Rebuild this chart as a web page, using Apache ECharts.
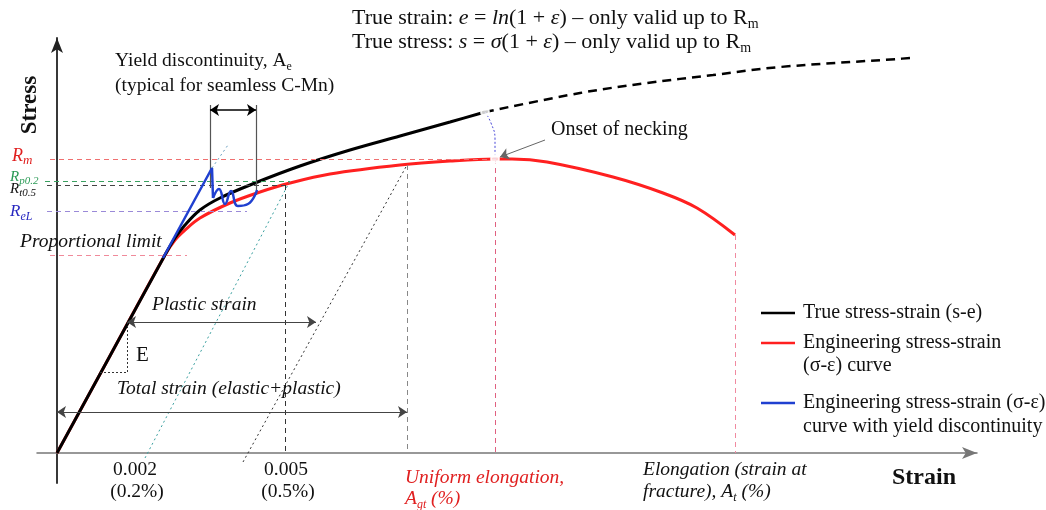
<!DOCTYPE html>
<html>
<head>
<meta charset="utf-8">
<script src="https://cdn.jsdelivr.net/npm/echarts@6/dist/echarts.min.js"></script>
<style>
html,body{margin:0;padding:0;background:#fff;}
#c{width:1046px;height:510px;}
</style>
</head>
<body>
<div id="c"></div>
<script>
// ---- data (schematic strain / stress units) ----
const trueCurve = [[0,0],[54,99],[108,198],[118,215],[128,228],[143,243],[163,255],[198,270],[243,287],[293,303],[343,317],[393,331],[428,341]];
const trueCurveBeyond = [[428,341],[523,360],[590,370],[656,378],[723,386],[840,394],[853,395]];
const engCurve = [[0,0],[54,99],[108,198],[118,213],[128,223],[143,235],[173,250],[203,261],[233,270],[273,279],[343,288],[393,292],[438,294],[455,294],[490,291],[556,276],[606,260],[640,245],[678,218]];
const yieldRise = [[106,195],[155,285],[156,255]];
const yieldWave = [[156,255],[162,264],[168,249],[174,262],[181,247],[191,249],[200,263]];
const neckLink = [[428,341],[434,330],[438,314],[438,294]];
const neckPoints = [[428,341],[438,294]];

const guideRm = [[-7,294],[438,294]];
const guideRp02 = [[-12,272],[233,272]];
const guideRt05 = [[-10,268],[228,268]];
const guideReL = [[-10,242],[190,242]];
const guideProp = [[-7,198],[130,198]];
const guideOffset02 = [[88,-5],[233,272]];
const guideElasticExt = [[155,285],[171,308]];
const guideOffsetAgt = [[186,-9],[350,288]];
const guide005 = [[228,268],[228,0]];
const guideAgt = [[350,288],[350,0]];
const guideRmVert = [[438,294],[438,0]];
const guideAt = [[678,218],[678,0]];
const yieldLeft = [[153,348],[153,265]];
const yieldRight = [[199,348],[199,258]];
const arrowYield = [[153,343],[199,343]];
const arrowPlastic = [[70,131],[259,131]];
const arrowTotal = [[0,41],[350,41]];
const triEv = [[70,131],[70,81]];
const triEh = [[43,81],[70,81]];
const neckPointer = [[488,313],[443,296]];

// ---- styles ----
function seg(pts, color, type, width, s0, s1) {
  return [
    {coord: pts[0], symbol: s0 || 'none', lineStyle: {color: color, type: type, width: width || 1}},
    {coord: pts[1], symbol: s1 || 'none'}
  ];
}
const markLines = [
  seg(guideRm, '#f07070', [5,4], 1),
  seg(guideRp02, '#3aa060', [5,4], 1),
  seg(guideRt05, '#444', [5,4], 1),
  seg(guideReL, '#9a8ad8', [5,4], 1),
  seg(guideProp, '#f08a9a', [5,4], 1),
  seg(guideOffset02, '#3aa0a0', [2,3], 1),
  seg(guideElasticExt, '#6aa0c0', [2,3], 1),
  seg(guideOffsetAgt, '#333', [2,3], 1),
  seg(guide005, '#333', [5,4], 1),
  seg(guideAgt, '#888', [5,4], 1),
  seg(guideRmVert, '#e06080', [5,4], 1),
  seg(guideAt, '#f08aa0', [5,4], 1),
  seg(yieldLeft, '#555', 'solid', 1.2),
  seg(yieldRight, '#555', 'solid', 1.2),
  seg(arrowYield, '#000', 'solid', 1.5, 'arrow', 'arrow'),
  seg(arrowPlastic, '#444', 'solid', 1.2, 'arrow', 'arrow'),
  seg(arrowTotal, '#444', 'solid', 1.2, 'arrow', 'arrow'),
  seg(triEv, '#333', [2,2], 1),
  seg(triEh, '#333', [2,2], 1),
  seg(neckPointer, '#666', 'solid', 1, 'none', 'arrow')
];

const SERIF = '"Liberation Serif", "DejaVu Serif", serif';
function T(x, y, text, o) {
  o = o || {};
  return {
    type: 'text', x: x, y: y, rotation: o.rot || 0, z: 100,
    style: {
      text: text, fill: o.fill || '#111', fontFamily: SERIF,
      fontSize: o.size || 20, fontStyle: o.italic ? 'italic' : 'normal',
      fontWeight: o.bold ? 'bold' : 'normal',
      align: o.align || 'left', verticalAlign: 'middle',
      rich: o.rich
    }
  };
}
function richSet(size, color, italic, subRatio) {
  const ss = Math.round(size * (subRatio || 0.62));
  return {
    r: {fontSize: size, fill: color, fontFamily: SERIF, lineHeight: size + 4, fontStyle: italic ? 'italic' : 'normal'},
    i: {fontSize: size, fill: color, fontFamily: SERIF, lineHeight: size + 4, fontStyle: 'italic'},
    s: {fontSize: ss, fill: color, fontFamily: SERIF, fontStyle: italic ? 'italic' : 'normal', verticalAlign: 'bottom', lineHeight: ss + 2}
  };
}
function L(x, y, color) {
  return {type: 'line', z: 100, shape: {x1: x, y1: y, x2: x + 34, y2: y}, style: {stroke: color, lineWidth: 2.5}};
}

const graphics = [
  T(352, 18, '{r|True strain: }{i|e}{r| = }{i|ln}{r|(1 + }{i|ε}{r|) – only valid up to R}{s|m}', {rich: richSet(22, '#111')}),
  T(352, 42, '{r|True stress: }{i|s}{r| = }{i|σ}{r|(1 + }{i|ε}{r|) – only valid up to R}{s|m}', {rich: richSet(22, '#111')}),
  T(115, 61, '{r|Yield discontinuity, A}{s|e}', {rich: richSet(19.5, '#111')}),
  T(115, 86, '(typical for seamless C-Mn)', {size: 19.5}),
  T(30, 105, 'Stress', {size: 23, bold: true, align: 'center', rot: Math.PI / 2}),
  T(892, 478, 'Strain', {size: 24, bold: true}),
  T(12, 156, '{i|R}{s|m}', {rich: richSet(18, '#e02020', true, 0.7)}),
  T(10, 177, '{i|R}{s|p0.2}', {rich: richSet(15, '#2a9a55', true, 0.75)}),
  T(10, 189, '{i|R}{s|t0.5}', {rich: richSet(15, '#111', true, 0.75)}),
  T(10, 212, '{i|R}{s|eL}', {rich: richSet(17, '#2828c0', true, 0.72)}),
  T(20, 242, 'Proportional limit', {size: 19.5, italic: true}),
  T(152, 305, 'Plastic strain', {size: 19.5, italic: true}),
  T(136, 355, 'E', {size: 21}),
  T(117, 389, 'Total strain (elastic+plastic)', {size: 19.5, italic: true}),
  T(551, 130, 'Onset of necking', {size: 20}),
  T(135, 470, '0.002', {size: 19.5, align: 'center'}),
  T(137, 492, '(0.2%)', {size: 19.5, align: 'center'}),
  T(286, 470, '0.005', {size: 19.5, align: 'center'}),
  T(288, 492, '(0.5%)', {size: 19.5, align: 'center'}),
  T(405, 478, 'Uniform elongation,', {size: 19.5, italic: true, fill: '#e02020'}),
  T(405, 499, '{i|A}{s|gt}{i| (%)}', {rich: richSet(19.5, '#e02020', true)}),
  T(643, 470, 'Elongation (strain at', {size: 19.5, italic: true}),
  T(643, 492, '{i|fracture), A}{s|t}{i| (%)}', {rich: richSet(19.5, '#111', true)}),
  L(761, 313, '#000'),
  L(761, 343, '#ff2020'),
  L(761, 403, '#2040d0'),
  T(803, 313, 'True stress-strain (s-e)', {size: 20}),
  T(803, 343, 'Engineering stress-strain', {size: 20}),
  T(803, 366, '(σ-ε) curve', {size: 20}),
  T(803, 403, 'Engineering stress-strain (σ-ε)', {size: 20}),
  T(803, 427, 'curve with yield discontinuity', {size: 20})
];

const chart = echarts.init(document.getElementById('c'));
chart.setOption({
  animation: false,
  backgroundColor: '#fff',
  grid: {left: 37, right: 69, top: 38, bottom: 27, containLabel: false},
  xAxis: {
    type: 'value', min: -20, max: 920,
    axisLine: {onZero: true, symbol: ['none', 'arrow'], symbolSize: [9, 15], lineStyle: {color: '#777', width: 1.5}},
    axisTick: {show: false}, axisLabel: {show: false}, splitLine: {show: false}
  },
  yAxis: {
    type: 'value', min: -30, max: 415,
    axisLine: {onZero: true, symbol: ['none', 'arrow'], symbolSize: [9, 15], lineStyle: {color: '#222', width: 1.8}},
    axisTick: {show: false}, axisLabel: {show: false}, splitLine: {show: false}
  },
  series: [
    {type: 'line', data: [], silent: true,
     markLine: {silent: true, symbolSize: 9, label: {show: false}, emphasis: {disabled: true}, data: markLines}},
    {type: 'line', data: engCurve, smooth: 0.35, showSymbol: false, lineStyle: {color: '#ff2020', width: 3}, z: 3},
    {type: 'line', data: trueCurve, smooth: 0.35, showSymbol: false, lineStyle: {color: '#000', width: 3}, z: 4},
    {type: 'line', data: trueCurveBeyond, smooth: 0.35, showSymbol: false, lineStyle: {color: '#000', width: 2.5, type: [9, 6]}, z: 4},
    {type: 'line', data: neckLink, smooth: 0.5, showSymbol: false, lineStyle: {color: '#4848d8', width: 1, type: [2, 2]}, z: 5},
    {type: 'scatter', data: neckPoints, symbol: 'emptyCircle', symbolSize: 8, itemStyle: {color: '#fff', borderColor: '#5050e0', borderWidth: 1}, z: 6},
    {type: 'line', data: yieldRise, showSymbol: false, lineStyle: {color: '#2040d0', width: 2.5}, z: 6},
    {type: 'line', data: yieldWave, smooth: 0.5, showSymbol: false, lineStyle: {color: '#2040d0', width: 2.5}, z: 6}
  ],
  graphic: graphics
});
</script>
</body>
</html>
